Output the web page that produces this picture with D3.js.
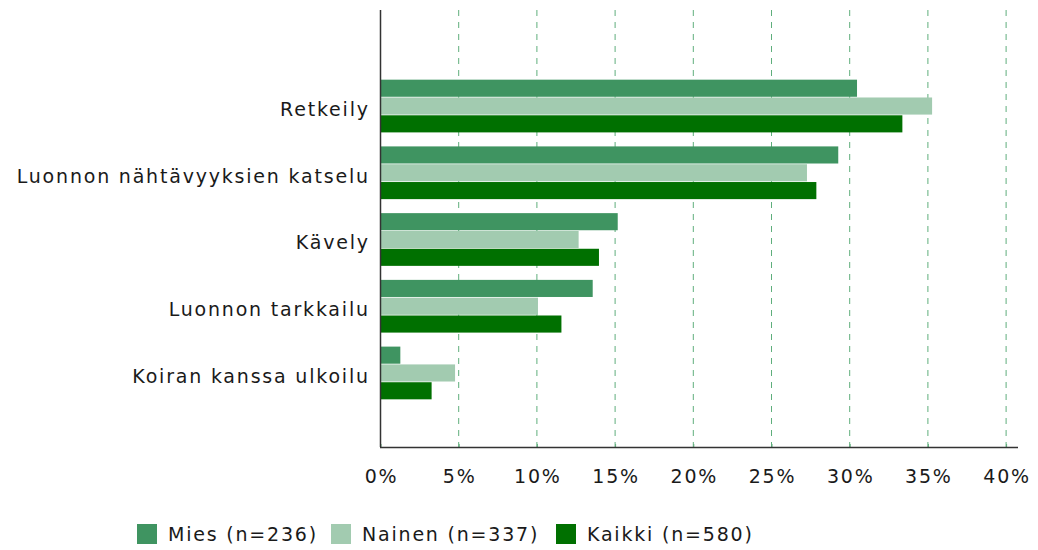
<!DOCTYPE html>
<html>
<head>
<meta charset="utf-8">
<script src="https://cdn.jsdelivr.net/npm/d3@7"></script>
<style>
    body { margin: 0; background: #fff; }
    text { font-family: "DejaVu Sans", sans-serif; fill: #1a1a1a; letter-spacing: 1.8px; }
</style>
</head>
<body>
<div id="chart"></div>
<script>
// Data
const categories = ["Retkeily", "Luonnon nähtävyyksien katselu", "Kävely", "Luonnon tarkkailu", "Koiran kanssa ulkoilu"]
const seriesNames = ["Mies (n=236)", "Nainen (n=337)", "Kaikki (n=580)"]
const mies = [30.5, 29.3, 15.2, 13.6, 1.3]
const nainen = [35.3, 27.3, 12.7, 10.1, 4.8]
const kaikki = [33.4, 27.9, 14.0, 11.6, 3.3]
const xTicks = [0, 5, 10, 15, 20, 25, 30, 35, 40]
const colors = ["#3f9461", "#a2cbb0", "#007000"]

const series = [mies, nainen, kaikki]
const data = categories.map((c, i) => ({
    category: c,
    values: series.map((s, j) => ({ key: seriesNames[j], value: s[i] }))
}))

// Dimensions
const dimensions = {
    width: 1038,
    height: 550,
    margins: { top: 10, right: 20, left: 380, bottom: 103 }
}
dimensions.boundedWidth = dimensions.width - dimensions.margins.left - dimensions.margins.right
dimensions.boundedHeight = dimensions.height - dimensions.margins.top - dimensions.margins.bottom

const wrapper = d3.select("#chart").append("svg")
    .attr("width", dimensions.width)
    .attr("height", dimensions.height)

const bounds = wrapper.append("g")
    .attr("transform", `translate(${dimensions.margins.left}, ${dimensions.margins.top})`)

// Scales
const xScale = d3.scaleLinear()
    .domain([0, 40])
    .range([0, 625.6])

const yScale = d3.scaleBand()
    .domain(categories)
    .range([63, 396])
    .paddingInner(0.21)
    .paddingOuter(0.1)

const innerScale = d3.scaleBand()
    .domain(seriesNames)
    .range([0, yScale.bandwidth()])
    .paddingInner(0.04)

// Grid lines
bounds.append("g")
    .selectAll("line")
    .data(xTicks.slice(1))
    .join("line")
    .attr("x1", d => xScale(d) + 0.5)
    .attr("x2", d => xScale(d) + 0.5)
    .attr("y1", 0)
    .attr("y2", dimensions.boundedHeight)
    .attr("stroke", "#5fae7c")
    .attr("stroke-width", 1)
    .attr("stroke-dasharray", "6,6")

// Bars
const groups = bounds.selectAll(".group")
    .data(data)
    .join("g")
    .attr("class", "group")
    .attr("transform", d => `translate(0, ${yScale(d.category)})`)

groups.selectAll("rect")
    .data(d => d.values)
    .join("rect")
    .attr("x", 0)
    .attr("y", d => innerScale(d.key))
    .attr("width", d => xScale(d.value))
    .attr("height", innerScale.bandwidth())
    .attr("fill", (d, i) => colors[i])

// Axes
const xAxisGenerator = d3.axisBottom(xScale)
    .tickValues(xTicks)
    .tickFormat(d => d + "%")
    .tickSize(3)
    .tickSizeOuter(0)
    .tickPadding(20)

const xAxis = bounds.append("g")
    .attr("transform", `translate(0, ${dimensions.boundedHeight})`)
    .call(xAxisGenerator)

xAxis.select(".domain").remove()
xAxis.append("line")
    .attr("x1", 0)
    .attr("x2", 638)
    .attr("y1", 0.5)
    .attr("y2", 0.5)
    .attr("stroke", "#333")
    .attr("stroke-width", 1.5)
xAxis.selectAll(".tick line")
    .attr("stroke", "#5fae7c")
    .attr("transform", "translate(0.5, -3)")
xAxis.selectAll(".tick text")
    .attr("font-size", "19px")
    .attr("fill", "#1a1a1a")
    .attr("dx", "1px")
    .style("font-family", "DejaVu Sans, sans-serif")

const yAxisGenerator = d3.axisLeft(yScale)
    .tickSize(0)
    .tickPadding(12)

const yAxis = bounds.append("g").call(yAxisGenerator)
yAxis.select(".domain").remove()
yAxis.append("line")
    .attr("x1", 0.5)
    .attr("x2", 0.5)
    .attr("y1", 0)
    .attr("y2", dimensions.boundedHeight)
    .attr("stroke", "#333")
    .attr("stroke-width", 1.5)
yAxis.selectAll(".tick text")
    .attr("font-size", "19px")
    .attr("fill", "#1a1a1a")
    .attr("dx", "1.8px")
    .attr("dy", "0.52em")
    .style("font-family", "DejaVu Sans, sans-serif")

// Legend
const legendX = [137, 331, 556]
const legend = wrapper.append("g")
    .selectAll("g")
    .data(seriesNames)
    .join("g")
    .attr("transform", (d, i) => `translate(${legendX[i]}, 524)`)

legend.append("rect")
    .attr("width", 20)
    .attr("height", 20)
    .attr("fill", (d, i) => colors[i])

legend.append("text")
    .attr("x", 31)
    .attr("y", 17)
    .attr("font-size", "19px")
    .text(d => d)
</script>
</body>
</html>
